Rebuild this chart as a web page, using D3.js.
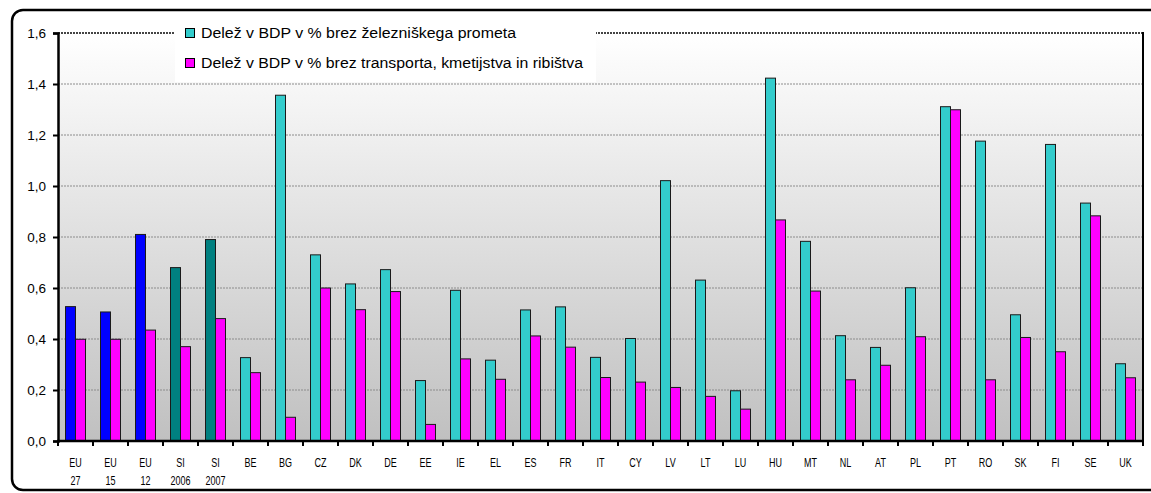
<!DOCTYPE html>
<html>
<head>
<meta charset="utf-8">
<script src="https://cdn.jsdelivr.net/npm/d3@7"></script>
<style>
body { margin: 0; background: #fff; }
svg { display: block; font-family: "Liberation Sans", Arial, sans-serif; }
</style>
</head>
<body>
<div id="chart"></div>
<script>
// data
var categories = ["EU 27", "EU 15", "EU 12", "SI 2006", "SI 2007", "BE", "BG", "CZ", "DK", "DE",
  "EE", "IE", "EL", "ES", "FR", "IT", "CY", "LV", "LT", "LU", "HU", "MT", "NL", "AT", "PL",
  "PT", "RO", "SK", "FI", "SE", "UK"];
var seriesNames = ["Delež v BDP v % brez železniškega prometa",
  "Delež v BDP v % brez transporta, kmetijstva in ribištva"];
var brezZeleznic = [0.527, 0.506, 0.810, 0.680, 0.790, 0.327, 1.356, 0.730, 0.616, 0.672,
  0.237, 0.591, 0.317, 0.514, 0.526, 0.328, 0.402, 1.021, 0.631, 0.197, 1.423, 0.783, 0.413,
  0.367, 0.601, 1.311, 1.176, 0.495, 1.163, 0.933, 0.303];
var brezTransporta = [0.399, 0.399, 0.435, 0.370, 0.480, 0.268, 0.093, 0.600, 0.515, 0.586,
  0.065, 0.322, 0.242, 0.412, 0.368, 0.249, 0.231, 0.210, 0.175, 0.125, 0.867, 0.588, 0.240,
  0.297, 0.409, 1.299, 0.240, 0.406, 0.350, 0.883, 0.248];
var yTicks = [0, 0.2, 0.4, 0.6, 0.8, 1.0, 1.2, 1.4, 1.6];

var svgWidth = 1151, svgHeight = 493;
var plot = { left: 58, right: 1143, top: 33, bottom: 441 };

var svg = d3.select("#chart").append("svg")
  .attr("width", svgWidth)
  .attr("height", svgHeight);

// outer rounded frame (right side runs off the picture)
svg.append("rect")
  .attr("x", 12).attr("y", 10)
  .attr("width", 1200).attr("height", 480)
  .attr("rx", 11)
  .attr("fill", "#fff")
  .attr("stroke", "#000")
  .attr("stroke-width", 2.5);

// plot background gradient
var grad = svg.append("defs").append("linearGradient")
  .attr("id", "bg").attr("x1", 0).attr("y1", 0).attr("x2", 0).attr("y2", 1);
grad.append("stop").attr("offset", "0%").attr("stop-color", "#ffffff");
grad.append("stop").attr("offset", "100%").attr("stop-color", "#c0c0c0");

svg.append("rect")
  .attr("x", plot.left).attr("y", plot.top)
  .attr("width", plot.right - plot.left).attr("height", plot.bottom - plot.top)
  .attr("fill", "url(#bg)");

var x = d3.scaleBand()
  .domain(categories)
  .range([plot.left, plot.right]);

var y = d3.scaleLinear()
  .domain([0, 1.6])
  .range([plot.bottom, plot.top]);

var barW = 10;
var fmt = d => d3.format(".1f")(d).replace(".", ",");

// gridlines
svg.append("g").selectAll("line")
  .data(yTicks.filter(d => d > 0 && d < 1.6))
  .enter().append("line")
  .attr("x1", plot.left).attr("x2", plot.right)
  .attr("y1", d => y(d)).attr("y2", d => y(d))
  .attr("stroke", "#8c8c8c")
  .attr("stroke-width", 1)
  .attr("stroke-dasharray", "2,1");

// top border of plot area (dashed dark)
svg.append("line")
  .attr("x1", plot.left).attr("x2", plot.right)
  .attr("y1", y(1.6)).attr("y2", y(1.6))
  .attr("stroke", "#444")
  .attr("stroke-width", 2)
  .attr("stroke-dasharray", "2,1");

// right border
svg.append("line")
  .attr("x1", plot.right).attr("x2", plot.right)
  .attr("y1", plot.top - 1).attr("y2", plot.bottom)
  .attr("stroke", "#000").attr("stroke-width", 2);

function firstColor(cat) {
  if (cat.indexOf("EU") === 0) return "#0000ff";
  if (cat.indexOf("SI") === 0) return "#008080";
  return "#33cccc";
}

var bars = svg.append("g");
bars.selectAll("rect.s1")
  .data(categories)
  .enter().append("rect")
  .attr("class", "s1")
  .attr("x", d => x(d) + x.bandwidth() / 2 - barW)
  .attr("y", (d, i) => y(brezZeleznic[i]))
  .attr("width", barW)
  .attr("height", (d, i) => y(0) - y(brezZeleznic[i]))
  .attr("fill", d => firstColor(d))
  .attr("stroke", "#1a1a1a")
  .attr("stroke-width", 1);

bars.selectAll("rect.s2")
  .data(categories)
  .enter().append("rect")
  .attr("class", "s2")
  .attr("x", d => x(d) + x.bandwidth() / 2)
  .attr("y", (d, i) => y(brezTransporta[i]))
  .attr("width", barW)
  .attr("height", (d, i) => y(0) - y(brezTransporta[i]))
  .attr("fill", "#ff00ff")
  .attr("stroke", "#1a1a1a")
  .attr("stroke-width", 1);

// y axis
var leftAxis = d3.axisLeft(y).tickValues(yTicks).tickFormat(fmt).tickSize(5).tickPadding(7);
var gy = svg.append("g").attr("transform", `translate(${plot.left},0)`).call(leftAxis);
gy.select(".domain").attr("stroke-width", 2.5);
gy.selectAll(".tick line").attr("stroke-width", 2);
gy.selectAll("text").attr("font-size", 13.5).attr("fill", "#000")
  .attr("font-family", "Liberation Sans, Arial, sans-serif");

// x axis line and ticks at category boundaries
var gx = svg.append("g");
gx.append("line")
  .attr("x1", plot.left - 1).attr("x2", plot.right + 1)
  .attr("y1", plot.bottom).attr("y2", plot.bottom)
  .attr("stroke", "#000").attr("stroke-width", 2.5);
gx.selectAll("line.tk")
  .data(categories.concat(["end"]))
  .enter().append("line")
  .attr("class", "tk")
  .attr("x1", (d, i) => plot.left + i * x.step())
  .attr("x2", (d, i) => plot.left + i * x.step())
  .attr("y1", plot.bottom).attr("y2", plot.bottom + 5)
  .attr("stroke", "#000").attr("stroke-width", 2);

var labels = gx.selectAll("g.lbl")
  .data(categories)
  .enter().append("g")
  .attr("class", "lbl")
  .attr("transform", d => `translate(${x(d) + x.bandwidth() / 2},0) scale(0.72,1)`);
labels.each(function(d) {
  var parts = d.split(" ");
  var g = d3.select(this);
  parts.forEach((p, j) => {
    g.append("text")
      .attr("x", 0)
      .attr("y", 467 + j * 18)
      .attr("text-anchor", "middle")
      .attr("font-size", 12.5)
      .attr("fill", "#000")
      .text(p);
  });
});

// legend
var legend = svg.append("g");
legend.append("rect")
  .attr("x", 175).attr("y", 21)
  .attr("width", 421).attr("height", 61)
  .attr("fill", "#fff");
var legendColors = ["#33cccc", "#ff00ff"];
var legendW = [315, 382];
seriesNames.forEach((name, i) => {
  var ly = 33 + i * 30;
  legend.append("rect")
    .attr("x", 185.5).attr("y", ly - 4.5)
    .attr("width", 9).attr("height", 9)
    .attr("fill", legendColors[i])
    .attr("stroke", "#000").attr("stroke-width", 1);
  legend.append("text")
    .attr("x", 201).attr("y", ly + 5)
    .attr("font-size", 14)
    .attr("textLength", legendW[i])
    .attr("lengthAdjust", "spacingAndGlyphs")
    .attr("fill", "#000")
    .text(name);
});
</script>
</body>
</html>
